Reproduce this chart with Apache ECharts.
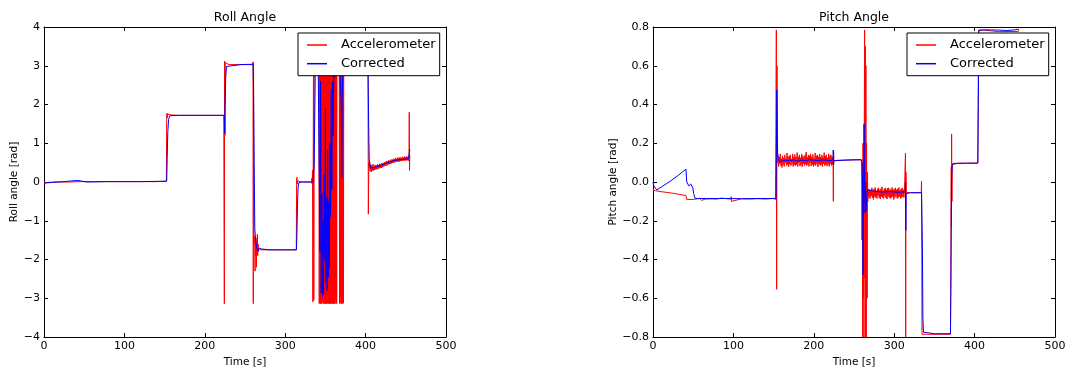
<!DOCTYPE html>
<html><head><meta charset="utf-8">
<script src="https://cdn.jsdelivr.net/npm/echarts@6/dist/echarts.min.js"></script>
<style>html,body{margin:0;padding:0;background:#fff}#c{width:1070px;height:369px}</style>
</head><body><div id="c"></div>
<script>
// ---------- tick labels ----------
const xTickLabels = ['0','100','200','300','400','500'];
const rollTickLabels = ['\u22124','\u22123','\u22122','\u22121','0','1','2','3','4'];
const pitchTickLabels = ['\u22120.8','\u22120.6','\u22120.4','\u22120.2','0.0','0.2','0.4','0.6','0.8'];
const seriesNames = ['Accelerometer', 'Corrected'];

// ---------- Roll: accelerometer (red) ----------
const rollAccelPts = [
  [0,-0.02],[5,-0.01],[15,0.0],[30,0.0],[45,0.01],[55,0.01],[63,0.01],[63.4,0.06],[63.8,-0.03],[70,0.01],
  [81.6,0.01],[82,0.05],[82.4,-0.03],[90,0.01],[96.2,0.01],[96.6,0.06],[97,-0.04],[110,0.01],[125,0.01],[140,0.01],
  [152.2,0.02],[152.6,1.70],[153,1.78],[153.4,1.66],[153.8,1.75],[155,1.72],[158,1.73],[170,1.72],[190,1.72],[210,1.72],
  [223.6,1.72],[224,1.73],[224.3,-3.14],[224.6,3.12],[225,1.2],[225.4,3.08],[226,3.03],[230,3.03],[245,3.03],[259.6,3.04],
  [260,3.1],[260.3,-3.14],[260.6,3.08],[261,-1.3],[261.5,-1.6],[262,-1.4],[262.5,-2.3],[263,-1.5],[263.4,-1.9],[263.8,-1.45],
  [264.2,-2.2],[264.6,-1.6],[265,-1.7],[265.4,-1.35],[265.8,-1.9],[266.3,-1.6],[266.8,-1.8],[267.4,-1.7],[268,-1.75],[270,-1.75],
  [285,-1.75],[300,-1.75],[313.8,-1.75],[314.2,0.05],[314.6,0.12],[315,-0.05],[315.5,0.03],[316.5,0.0],[320,0.0],[330,0.0],
  [332.8,0.0],[333.2,0.1],[333.6,-0.05],[334,0.3],[334.4,-3.09],[334.8,0.2],[335.2,3.14],[335.6,-3.05],[336,3.14],[337,3.08],
  [339,3.1],[341,3.06],[341.8,3.1],
  [365.5,3.1],[366.5,3.08],[367.2,3.1],
  [374,3.05],[390,3.05],[403,3.06],[403.4,-0.83],[404,0.5],[404.5,0.35],
  [454.3,1.8],[454.6,0.3],[455,0.7]
];
const rollAccelBand1 = { start: 342, step: 0.35, values: [
  3.12,-3.14,3.05,-3.1,2.9,-3.14,3.14,-2.95,3.1,-3.14,2.8,-3.12,3.14,-3.05,3.0,-3.14,3.12,-2.9,3.14,-3.14,
  2.95,-3.1,3.13,-3.14,3.06,-3.0,3.14,-3.14,2.85,-3.12,3.1,-3.14,3.14,-3.08,2.98,-3.14,3.12,-3.14,3.05,-2.92,
  3.14,-3.14,3.08,-3.1,2.9,-3.14,3.14,-3.04,3.1,-3.14,3.0,-3.14,3.13,-3.1,2.95,-3.14,3.12,-3.14,3.06,-3.0,
  3.14,-3.12,3.1,-3.14,3.05,3.1 ] };
const rollAccelBand2 = { start: 367.6, step: 0.35, values: [
  -3.14,3.1,-3.12,3.14,-3.0,3.12,-3.14,3.05,-3.14,3.1,-3.1,3.14,-3.14,3.08,-3.12,3.1,3.05 ] };
const rollAccelBand3 = { start: 405, step: 0.7, values: [
  0.52,0.28,0.45,0.26,0.43,0.30,0.46,0.29,0.42,0.31,0.44,0.32,0.43,0.33,0.46,0.34,0.44,0.35,0.47,0.36,
  0.46,0.37,0.49,0.38,0.48,0.40,0.51,0.41,0.52,0.42,0.54,0.43,0.53,0.45,0.56,0.46,0.55,0.47,0.58,0.48,
  0.57,0.49,0.60,0.50,0.59,0.51,0.62,0.52,0.60,0.52,0.63,0.53,0.62,0.53,0.64,0.54,0.62,0.54,0.65,0.55,
  0.63,0.55,0.66,0.55,0.64,0.56,0.66,0.56,0.65,0.55,0.64 ] };

// ---------- Roll: corrected (blue) ----------
const rollCorrPts = [
  [0,-0.03],[10,-0.01],[25,0.01],[42,0.04],[53,0.0],[80,0.01],[120,0.01],[152.6,0.02],[153.2,0.6],[154,1.3],
  [155,1.62],[156.5,1.71],[170,1.72],[200,1.72],[224.2,1.72],[224.8,1.25],[225.2,2.0],[226,2.7],[227,2.98],[228.5,3.03],
  [245,3.03],[260,3.03],[260.6,2.5],[261.4,0.5],[262.2,-1.2],[263,-1.45],[263.8,-1.6],[264.6,-1.7],[265.4,-1.65],[266.2,-1.78],
  [267,-1.72],[268,-1.76],[280,-1.75],[300,-1.75],[314,-1.75],[314.6,-1.3],[315.3,-0.6],[316,-0.15],[317,-0.02],[320,0.0],
  [334.8,0.0],[335.4,0.05],[336,0.48],[336.6,1.5],[337.4,2.8],[338.5,3.05],[341,3.05],[342.5,3.0],[343.3,-1.8],[344,2.6],
  [344.8,-2.87],[345.6,-0.3],[346.3,-2.95],[347,-1.0],[347.7,-2.9],[348.5,0.2],[349.2,-2.0],[350,1.9],[350.7,-2.6],[351.4,-0.4],
  [352.1,-2.8],[352.8,0.83],[353.5,-2.45],[354.2,-0.5],[355,-2.2],[355.7,1.0],[356.4,-0.9],[357.2,2.4],[358,-0.2],[358.8,2.6],
  [359.6,1.2],[360.5,2.9],[361.4,2.7],[362.5,3.0],[364,2.95],[366,3.0],[368,2.9],[369,2.4],[369.8,2.0],[370.4,0.1],
  [371,2.3],[371.8,2.9],[373,3.05],[385,3.05],[403,3.05],[403.8,1.5],[404.5,0.6],[405.5,0.42],[407,0.36],[410,0.37],
  [415,0.40],[420,0.44],[425,0.48],[430,0.52],[435,0.55],[440,0.57],[445,0.58],[450,0.59],[453,0.60],[454,0.58],
  [454.5,0.75],[455,0.85]
];

// ---------- Pitch: accelerometer (red) ----------
const pitchAccelPts = [
  [0,-0.04],[1,-0.05],[3,-0.045],[10,-0.05],[20,-0.055],[30,-0.062],[41,-0.07],[42,-0.09],[44,-0.09],[50,-0.09],
  [58,-0.085],[60,-0.08],[60.5,-0.095],[65,-0.088],[72,-0.087],[72.4,-0.095],[80,-0.088],[85,-0.083],[85.4,-0.09],[97,-0.088],
  [97.3,-0.076],[97.6,-0.1],[110,-0.087],[120,-0.088],[130,-0.086],[140,-0.088],[150,-0.085],[152.5,-0.09],[153,-0.08],[153.4,0.785],
  [153.8,-0.554],[154.2,0.6],[154.6,0.1],[155,0.14],
  [224,0.12],[224.3,-0.10],[224.6,0.16],[225,0.11],[230,0.112],[240,0.113],[250,0.115],[259,0.115],[259.6,0.1],[260,-0.3],
  [260.4,0.1],[260.8,-0.8],[261.2,0.2],[261.6,-0.6],[262,0.0],[262.4,-0.8],[262.8,0.3],[263.2,0.785],[263.6,-0.5],[264,0.7],
  [264.4,-0.8],[264.8,0.6],[265.2,-0.8],[265.6,0.2],[266,-0.2],[266.4,-0.6],[266.8,0.05],[267.2,-0.1],[267.6,-0.04],
  [313.6,-0.05],[314,0.148],[314.3,-0.8],[314.6,0.05],[315,-0.055],[320,-0.055],[330,-0.056],[333.6,-0.055],[334,0.005],[334.3,-0.3],
  [334.6,-0.786],[336,-0.786],[340,-0.786],[350,-0.786],[360,-0.786],[370,-0.786],[370.6,-0.3],[371,0.08],[371.2,-0.23],[371.4,0.248],
  [371.8,-0.1],[372.2,0.09],[373,0.095],[380,0.097],[390,0.097],[404,0.098],[404.6,0.5],[405,0.785],[410,0.785],[412,0.776],
  [430,0.776],[450,0.777],[454,0.776],[455,0.79]
];
const pitchAccelBand1 = { start: 155.5, step: 0.7, values: [
  0.14,0.08,0.13,0.095,0.145,0.085,0.12,0.075,0.135,0.09,
  0.125,0.08,0.14,0.1,0.12,0.085,0.15,0.09,0.13,0.078,
  0.135,0.092,0.14,0.085,0.118,0.095,0.145,0.08,0.13,0.088,
  0.142,0.085,0.128,0.09,0.152,0.08,0.13,0.1,0.14,0.082,
  0.125,0.09,0.145,0.078,0.135,0.095,0.13,0.085,0.14,0.092,
  0.155,0.085,0.128,0.09,0.14,0.08,0.135,0.098,0.145,0.083,
  0.13,0.09,0.142,0.08,0.122,0.09,0.15,0.085,0.135,0.095,
  0.14,0.078,0.13,0.092,0.145,0.085,0.128,0.09,0.14,0.08,
  0.13,0.095,0.152,0.085,0.135,0.09,0.14,0.082,0.125,0.09,
  0.145,0.08,0.135,0.095,0.14,0.085,0.13,0.09 ] };
const pitchAccelBand2 = { start: 268, step: 0.7, values: [
  -0.03,-0.08,-0.038,-0.085,-0.042,-0.072,-0.03,-0.082,-0.04,-0.09,
  -0.035,-0.075,-0.028,-0.08,-0.045,-0.085,-0.035,-0.07,-0.03,-0.082,
  -0.04,-0.088,-0.035,-0.075,-0.025,-0.08,-0.045,-0.085,-0.035,-0.072,
  -0.03,-0.082,-0.04,-0.088,-0.032,-0.075,-0.03,-0.08,-0.042,-0.085,
  -0.035,-0.08,-0.028,-0.075,-0.04,-0.09,-0.035,-0.08,-0.03,-0.072,
  -0.04,-0.085,-0.035,-0.08,-0.028,-0.075,-0.042,-0.085,-0.035,-0.08,
  -0.03,-0.075,-0.04,-0.08,-0.045 ] };

// ---------- Pitch: corrected (blue) ----------
const pitchCorrPts = [
  [0,0.0],[1,-0.02],[4.6,-0.041],[10,-0.027],[20,0.0],[30,0.03],[41,0.066],[42,0.0],[43.5,-0.007],[44.5,-0.02],
  [47,-0.01],[48,0.0],[49.5,-0.03],[50.5,-0.058],[52.3,-0.084],[55,-0.085],[80,-0.085],[110,-0.086],[140,-0.085],[153,-0.085],
  [153.5,0.2],[154,0.475],[154.5,0.3],[155,0.15],[156,0.12],[157,0.105],[158,0.1],[160,0.108],[165,0.112],[170,0.11],
  [175,0.114],[180,0.108],[185,0.113],[190,0.11],[195,0.115],[200,0.112],[205,0.11],[210,0.114],[215,0.112],[220,0.11],
  [223.8,0.113],[224.2,0.165],[224.6,0.09],[225.2,0.11],[240,0.113],[259,0.115],[260,0.1],[260.6,0.0],[261.2,-0.48],[261.8,-0.1],
  [262.5,0.3],[263.2,-0.05],[263.8,-0.16],[264.4,0.0],[265,-0.15],[266,-0.06],[267,-0.04],[268,-0.05],[275,-0.048],[285,-0.052],
  [295,-0.05],[305,-0.053],[313.8,-0.05],[314.1,0.0],[314.4,-0.25],[314.8,-0.06],[320,-0.055],[334,-0.055],[334.6,-0.05],[335.1,-0.35],
  [335.7,-0.7],[336.4,-0.775],[337.5,-0.783],[350,-0.783],[370,-0.783],[370.6,-0.5],[371.2,0.0],[372,0.08],[373,0.096],[390,0.097],
  [404,0.097],[404.6,0.4],[405.2,0.78],[410,0.785],[420,0.785],[430,0.784],[440,0.782],[450,0.785],[454.4,0.79]
];

// ---------- build ----------
function build(sparse, bands) {
  const pts = sparse.slice();
  bands.forEach(b => b.values.forEach((v, i) => pts.push([+(b.start + i * b.step).toFixed(3), v])));
  pts.sort((a, b) => a[0] - b[0]);
  return pts;
}
const rollAccel = build(rollAccelPts, [rollAccelBand1, rollAccelBand2, rollAccelBand3]);
const rollCorr = build(rollCorrPts, []);
const pitchAccel = build(pitchAccelPts, [pitchAccelBand1, pitchAccelBand2]);
const pitchCorr = build(pitchCorrPts, []);

const FONT = 'DejaVu Sans';
const G = [
  { left: 44, top: 27, width: 402, height: 310, outerBoundsMode: 'none', containLabel: false },
  { left: 653, top: 27, width: 402, height: 310, outerBoundsMode: 'none', containLabel: false }
];

function xAx(gi, pos) {
  const main = pos === 'bottom';
  return {
    type: 'value', gridIndex: gi, position: pos, min: 0, max: 500, interval: 100,
    name: main ? 'Time [s]' : '', nameLocation: 'middle', nameGap: 18,
    nameTextStyle: { fontFamily: FONT, fontSize: 10.5, color: '#000' },
    axisLine: { show: true, onZero: false, lineStyle: { color: '#000', width: 1 } },
    axisTick: { show: true, inside: true, length: 4, lineStyle: { color: '#000', width: 1 } },
    axisLabel: { show: main, margin: 4, fontFamily: FONT, fontSize: 11, color: '#000',
      formatter: v => xTickLabels[Math.round(v / 100)] },
    splitLine: { show: false }
  };
}
function yAx(gi, pos, min, max, interval, labels, name, gap) {
  const main = pos === 'left';
  return {
    type: 'value', gridIndex: gi, position: pos, min: min, max: max, interval: interval,
    name: main ? name : '', nameLocation: 'middle', nameGap: gap, nameRotate: 90,
    nameTextStyle: { fontFamily: FONT, fontSize: 10.5, color: '#000' },
    axisLine: { show: true, onZero: false, lineStyle: { color: '#000', width: 1 } },
    axisTick: { show: true, inside: true, length: 4, lineStyle: { color: '#000', width: 1 } },
    axisLabel: { show: main, margin: 4, fontFamily: FONT, fontSize: 11, color: '#000',
      formatter: v => labels[Math.round((v - min) / interval)] },
    splitLine: { show: false }
  };
}
function legend(left) {
  return {
    data: seriesNames, left: left, top: 33, orient: 'vertical', icon: 'rect',
    itemWidth: 20, itemHeight: 1.5, itemGap: 4.7, padding: [5, 4, 5, 9],
    borderColor: '#000', borderWidth: 1, backgroundColor: '#fff', borderRadius: 0,
    selectedMode: false,
    textStyle: { fontFamily: FONT, fontSize: 13, color: '#000', lineHeight: 14, padding: [0, 0, 0, 9] }
  };
}
function line(name, data, xi, yi, color) {
  return {
    name: name, type: 'line', data: data, xAxisIndex: xi, yAxisIndex: yi,
    showSymbol: false, symbol: 'none', smooth: false, sampling: null, clip: true,
    lineStyle: { color: color, width: 1 }, itemStyle: { color: color },
    emphasis: { disabled: true }, silent: true, animation: false
  };
}

const chart = echarts.init(document.getElementById('c'), null, { renderer: 'canvas' });
chart.setOption({
  animation: false,
  backgroundColor: '#fff',
  textStyle: { fontFamily: FONT },
  title: [
    { text: 'Roll Angle', left: 245, top: 11, textAlign: 'center', padding: 0,
      textStyle: { fontFamily: FONT, fontSize: 12.5, fontWeight: 'normal', color: '#000' } },
    { text: 'Pitch Angle', left: 854, top: 11, textAlign: 'center', padding: 0,
      textStyle: { fontFamily: FONT, fontSize: 12.5, fontWeight: 'normal', color: '#000' } }
  ],
  grid: G,
  legend: [legend(298), legend(907)],
  xAxis: [xAx(0, 'bottom'), xAx(0, 'top'), xAx(1, 'bottom'), xAx(1, 'top')],
  yAxis: [
    yAx(0, 'left', -4, 4, 1, rollTickLabels, 'Roll angle [rad]', 22),
    yAx(0, 'right', -4, 4, 1, rollTickLabels, '', 0),
    yAx(1, 'left', -0.8, 0.8, 0.2, pitchTickLabels, 'Pitch angle [rad]', 34),
    yAx(1, 'right', -0.8, 0.8, 0.2, pitchTickLabels, '', 0)
  ],
  series: [
    line(seriesNames[0], rollAccel, 0, 0, '#ff0000'),
    line(seriesNames[1], rollCorr, 0, 0, '#0000ff'),
    line(seriesNames[0], pitchAccel, 2, 2, '#ff0000'),
    line(seriesNames[1], pitchCorr, 2, 2, '#0000ff')
  ]
});
</script></body></html>
